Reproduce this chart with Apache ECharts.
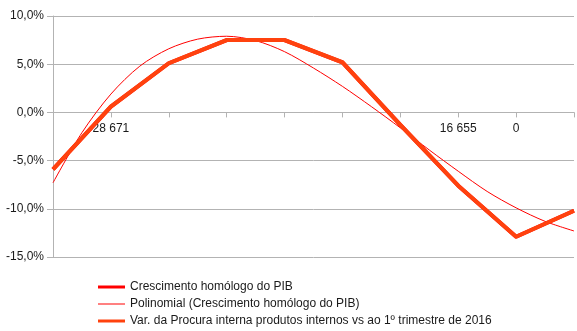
<!DOCTYPE html>
<html>
<head>
<meta charset="utf-8">
<script src="https://cdn.jsdelivr.net/npm/echarts@6/dist/echarts.min.js"></script>
<style>
html,body{margin:0;padding:0;background:#fff;}
#c{width:577px;height:331px;}
</style>
</head>
<body>
<div id="c"></div>
<script>
var categories = ['', '28 671', '', '', '', '', '', '16 655', '0', ''];
var crescimentoPIB = [-5.9, 0.6, 5.1, 7.5, 7.5, 5.2, -1.3, -7.6, -12.9, -10.2];
var procuraInterna = [-5.9, 0.6, 5.1, 7.5, 7.5, 5.2, -1.3, -7.6, -12.9, -10.2];
// trend line at whole and half category positions
var polyPositions = [0, 0.5, 1, 1.5, 2, 2.5, 3, 3.5, 4, 4.5, 5, 5.5, 6, 6.5, 7, 7.5, 8, 8.5, 9];
var polyValues = [-7.3, -2.1, 1.9, 4.8, 6.6, 7.6, 7.9, 7.45, 6.3, 4.6, 2.7, 0.6, -1.6, -3.9, -6.1, -8.2, -9.9, -11.3, -12.3];
var yTicks = { min: -15, max: 10, interval: 5 };
var seriesNames = [
  'Crescimento homólogo do PIB',
  'Polinomial (Crescimento homólogo do PIB)',
  'Var. da Procura interna produtos internos vs ao 1º trimestre de 2016'
];

var polyData = polyPositions.map(function (p, i) { return [p, polyValues[i]]; });

var gridTop = 16, gridBottom = 74, H = 331;
var gridHeight = H - gridTop - gridBottom;
// move the category axis up to the zero line of the value axis
var zeroOffset = -gridHeight * (0 - yTicks.min) / (yTicks.max - yTicks.min);

var chart = echarts.init(document.getElementById('c'), null, { renderer: 'canvas' });
var font = '"Liberation Sans", Arial, sans-serif';
chart.setOption({
  animation: false,
  backgroundColor: '#ffffff',
  textStyle: { fontFamily: font },
  grid: { left: 53, right: -4, top: gridTop, bottom: gridBottom, containLabel: false },
  legend: {
    orient: 'vertical',
    left: 98,
    top: 281,
    padding: 0,
    itemGap: 5,
    itemWidth: 27,
    itemHeight: 12,
    textStyle: { fontFamily: font, fontSize: 12, color: '#1a1a1a' },
    data: [
      { name: seriesNames[0], icon: 'path://M0,0H27V3H0Z' },
      { name: seriesNames[1], icon: 'path://M0,0H27V1H0Z' },
      { name: seriesNames[2], icon: 'path://M0,0H27V3H0Z' }
    ]
  },
  xAxis: [
    {
      type: 'category',
      data: categories,
      boundaryGap: false,
      position: 'bottom',
      offset: zeroOffset,
      axisLine: { onZero: false, lineStyle: { color: '#b3b3b3', width: 1 } },
      axisTick: { show: true, interval: 0, length: 5, lineStyle: { color: '#b3b3b3' } },
      axisLabel: { interval: 0, margin: 10, fontFamily: font, fontSize: 12, color: '#1a1a1a' },
      splitLine: { show: false }
    },
    {
      type: 'value',
      min: 0,
      max: 9,
      show: false,
      splitLine: { show: false }
    }
  ],
  yAxis: {
    type: 'value',
    min: yTicks.min,
    max: yTicks.max,
    interval: yTicks.interval,
    axisLine: { show: true, onZero: false, lineStyle: { color: '#b3b3b3', width: 1 } },
    axisTick: { show: true, length: 6, lineStyle: { color: '#b3b3b3' } },
    axisLabel: {
      margin: 9,
      fontFamily: font,
      fontSize: 12,
      color: '#1a1a1a',
      formatter: function (v) { return v.toFixed(1).replace('.', ',') + '%'; }
    },
    splitLine: { show: true, lineStyle: { color: '#b3b3b3', width: 1 } }
  },
  series: [
    {
      name: seriesNames[0],
      type: 'line',
      xAxisIndex: 0,
      data: crescimentoPIB,
      color: '#ff0000',
      showSymbol: false,
      symbol: 'none',
      lineStyle: { color: '#ff0000', width: 4 },
      z: 2
    },
    {
      name: seriesNames[1],
      type: 'line',
      xAxisIndex: 1,
      data: polyData,
      color: '#ff0000',
      smooth: 0.3,
      showSymbol: false,
      symbol: 'none',
      lineStyle: { color: '#ff0000', width: 1 },
      z: 3
    },
    {
      name: seriesNames[2],
      type: 'line',
      xAxisIndex: 0,
      data: procuraInterna,
      color: '#ff420e',
      showSymbol: false,
      symbol: 'none',
      lineStyle: { color: '#ff420e', width: 4, join: 'miter' },
      z: 4
    }
  ]
});
</script>
</body>
</html>
